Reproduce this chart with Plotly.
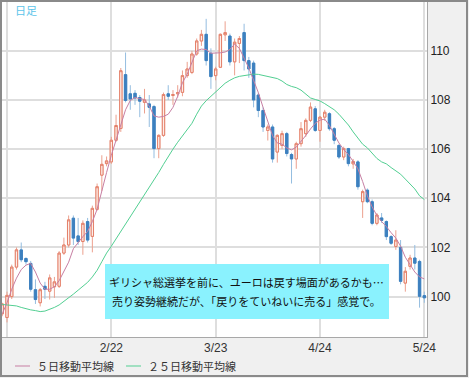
import plotly.graph_objects as go

# ---- data (trading-day index, -1 .. 88) ----
idx = list(range(-1, 89))

opens = [99.30, 99.15, 100.00, 101.20, 101.90, 101.55, 101.35, 100.28, 99.75, 100.42,
         100.22, 100.40, 100.42, 101.77, 102.10, 103.19, 102.47, 102.24, 103.05, 102.45,
         103.55, 104.94, 105.41, 105.48, 106.36, 106.84, 109.03, 108.25, 108.27, 108.10,
         107.90, 107.84, 107.73, 106.02, 106.56, 108.25, 108.18, 108.25, 108.31, 108.99,
         109.12, 109.87, 110.40, 110.67, 109.90, 108.99, 109.33, 110.65, 110.60, 109.55,
         110.30, 110.74, 109.60, 109.50, 108.20, 107.57, 106.76, 106.90, 105.88, 106.15,
         106.63, 105.78, 105.60, 106.22, 106.63, 107.17, 107.64, 106.76, 107.30, 107.44,
         106.83, 106.15, 105.68, 106.02, 105.40, 105.48, 103.86, 104.33, 103.86, 102.98,
         103.20, 103.05, 102.44, 102.04, 102.00, 100.55, 101.23, 101.57, 101.43, 100.04]

highs = [99.75, 100.20, 101.30, 102.00, 102.20, 101.60, 101.45, 100.70, 100.35, 100.60,
         100.90, 100.80, 101.85, 102.40, 103.30, 103.30, 103.20, 103.10, 103.20, 103.70,
         104.60, 105.75, 105.70, 106.50, 107.40, 109.30, 109.93, 108.60, 108.40, 108.20,
         108.45, 108.20, 107.80, 106.60, 108.30, 108.60, 108.40, 108.60, 109.20, 109.55,
         110.00, 110.50, 110.85, 111.30, 110.10, 109.35, 110.70, 111.20, 110.70, 110.50,
         110.60, 111.10, 109.75, 109.60, 108.30, 107.70, 107.00, 107.00, 106.60, 106.75,
         106.70, 105.85, 106.30, 107.10, 107.25, 107.90, 107.75, 107.35, 107.60, 107.50,
         106.90, 106.20, 106.10, 106.05, 105.60, 105.55, 104.35, 104.40, 103.95, 103.40,
         103.40, 103.10, 102.50, 102.70, 102.30, 101.20, 101.70, 102.10, 101.50, 100.20]

lows = [99.20, 98.95, 99.90, 101.10, 101.40, 101.30, 100.20, 99.70, 99.60, 99.90,
        99.88, 99.95, 100.35, 101.70, 102.00, 102.10, 102.10, 101.70, 102.20, 101.80,
        103.50, 104.30, 105.30, 105.40, 106.30, 106.70, 107.90, 107.60, 107.80, 107.30,
        107.45, 106.90, 105.63, 105.63, 106.50, 108.00, 107.80, 108.10, 108.15, 108.90,
        109.05, 109.80, 110.20, 109.40, 108.45, 108.80, 109.30, 110.40, 109.40, 109.00,
        109.50, 109.20, 108.90, 107.70, 107.30, 106.70, 106.35, 105.45, 105.45, 106.00,
        105.70, 104.60, 105.20, 106.10, 106.50, 107.10, 106.70, 106.30, 107.15, 106.75,
        106.20, 105.60, 105.55, 105.30, 105.20, 104.35, 103.20, 103.80, 102.90, 102.90,
        103.00, 102.30, 102.10, 101.90, 100.50, 100.20, 101.10, 101.10, 99.55, 99.75]

closes = [99.70, 100.05, 101.20, 101.90, 101.50, 101.42, 100.30, 99.88, 100.28, 100.30,
          100.76, 100.60, 101.77, 102.10, 103.12, 102.38, 102.24, 102.98, 102.30, 103.59,
          104.47, 105.38, 105.52, 106.36, 106.96, 109.19, 107.98, 108.04, 108.08, 107.95,
          108.00, 107.70, 106.02, 106.56, 108.22, 108.15, 108.22, 108.30, 108.99, 109.26,
          109.87, 110.40, 110.67, 109.60, 108.95, 109.26, 110.67, 110.74, 109.55, 110.35,
          110.50, 109.60, 109.26, 108.00, 107.57, 106.90, 106.90, 105.60, 106.56, 106.63,
          105.82, 105.60, 106.22, 106.83, 107.17, 107.71, 106.76, 107.30, 107.50, 106.83,
          106.36, 105.68, 106.02, 105.41, 105.50, 104.47, 104.27, 103.86, 102.98, 103.32,
          103.10, 102.44, 102.17, 102.30, 100.62, 101.03, 101.57, 101.36, 100.01, 99.95]

ma5 = [99.30, 99.75, 100.30, 100.75, 101.10, 101.28, 101.35, 101.00, 100.55, 100.30,
       100.30, 100.40, 100.65, 101.00, 101.40, 101.95, 102.20, 102.44, 102.65, 103.05,
       103.55, 104.35, 105.05, 105.75, 106.40, 107.00, 107.60, 107.98, 108.10, 108.05,
       108.02, 107.75, 107.35, 107.30, 107.33, 107.42, 107.70, 108.15, 108.70, 109.05,
       109.55, 110.00, 110.07, 110.05, 109.90, 109.90, 109.92, 109.95, 110.05, 110.27,
       110.10, 109.70, 109.30, 108.80, 108.30, 107.70, 107.10, 106.55, 106.25, 106.20,
       106.05, 105.97, 106.08, 106.30, 106.55, 106.82, 107.05, 107.18, 107.22, 106.96,
       106.62, 106.25, 105.98, 105.78, 105.50, 105.20, 104.68, 104.10, 103.65, 103.30,
       103.05, 102.85, 102.60, 102.38, 102.05, 101.60, 101.30, 101.00, 100.80, 100.72]

ma25 = [99.68, 99.67, 99.65, 99.62, 99.56, 99.50, 99.46, 99.43, 99.39, 99.41,
        99.47, 99.56, 99.66, 99.80, 99.93, 100.10, 100.26, 100.42, 100.58, 100.80,
        101.07, 101.42, 101.77, 102.05, 102.35, 102.65, 102.93, 103.22, 103.50, 103.80,
        104.15, 104.45, 104.70, 105.05, 105.38, 105.72, 106.00, 106.28, 106.55, 106.80,
        107.05, 107.42, 107.75, 107.97, 108.15, 108.32, 108.48, 108.68, 108.80, 108.90,
        108.96, 109.00, 109.03, 109.05, 109.04, 109.00, 108.97, 108.92, 108.87, 108.77,
        108.63, 108.55, 108.50, 108.40, 108.25, 108.08, 108.02, 107.96, 107.85, 107.72,
        107.60, 107.42, 107.20, 106.98, 106.70, 106.45, 106.20, 106.05, 105.85, 105.62,
        105.48, 105.40, 105.25, 105.12, 104.98, 104.78, 104.60, 104.38, 104.10, 103.95]

x_tick_pos = [0, 22, 44, 66, 88]
x_tick_labels = ["", "2/22", "3/23", "4/24", "5/24"]
y_ticks = [100, 102, 104, 106, 108, 110]

ma5_name = "５日移動平均線"
ma25_name = "２５日移動平均線"
note_lines = ["ギリシャ総選挙を前に、ユーロは戻す場面があるかも…",
              "売り姿勢継続だが、「戻りをていねいに売る」感覚で。"]
period_label = "日足"

# ---- styles ----
UP_LINE, UP_FILL, UP_WICK = "#e4806a", "#fdeee9", "#eca08e"
DN_LINE, DN_FILL, DN_WICK = "#3d80bf", "#3d80bf", "#94bde0"
MA5_COLOR, MA25_COLOR = "#c77fa3", "#52cf92"
JP = "Noto Sans CJK JP"

W, H = 469, 378
ML, MR, MT, MB = 2, 42, 2, 41
PW, PH = W - ML - MR, H - MT - MB


def fx(px):
    return (px - ML) / PW


def fy(py):
    return (H - MB - py) / PH


body_hi = [max(o, c) for o, c in zip(opens, closes)]
body_lo = [min(o, c) for o, c in zip(opens, closes)]

fig = go.Figure()
# wicks (lighter)
fig.add_trace(go.Candlestick(
    x=idx, open=opens, high=highs, low=lows, close=closes,
    increasing=dict(line=dict(color=UP_WICK, width=1), fillcolor=UP_FILL),
    decreasing=dict(line=dict(color=DN_WICK, width=1), fillcolor=DN_FILL),
    showlegend=False, hoverinfo="skip"))
# bodies
fig.add_trace(go.Candlestick(
    x=idx, open=opens, high=body_hi, low=body_lo, close=closes,
    increasing=dict(line=dict(color=UP_LINE, width=1), fillcolor=UP_FILL),
    decreasing=dict(line=dict(color=DN_LINE, width=1), fillcolor=DN_FILL),
    showlegend=False))
fig.add_trace(go.Scatter(x=idx, y=ma25, mode="lines", name=ma25_name,
                         line=dict(color=MA25_COLOR, width=1), showlegend=False))
fig.add_trace(go.Scatter(x=idx, y=ma5, mode="lines", name=ma5_name,
                         line=dict(color=MA5_COLOR, width=1), showlegend=False))

shapes = []
annotations = []

# annotation box
shapes.append(dict(type="rect", xref="paper", yref="paper",
                   x0=fx(105), x1=fx(389), y0=fy(319), y1=fy(264),
                   fillcolor="#8af2fe", line=dict(width=0), layer="above"))
for text, py in zip(note_lines, [282, 301]):
    annotations.append(dict(text=text, xref="paper", yref="paper",
                            x=fx(247), y=fy(py), xanchor="center", yanchor="middle",
                            showarrow=False, font=dict(family=JP, size=11, color="#111")))

annotations.append(dict(text=period_label, xref="paper", yref="paper",
                        x=fx(13), y=fy(10), xanchor="left", yanchor="middle",
                        showarrow=False, font=dict(family=JP, size=11, color="#5cc4ea")))

# manual legend
for (x0, x1, tx, name, col) in [(15, 30, 35, ma5_name, MA5_COLOR),
                                (126, 141, 146, ma25_name, MA25_COLOR)]:
    shapes.append(dict(type="line", xref="paper", yref="paper",
                       x0=fx(x0), x1=fx(x1), y0=fy(366), y1=fy(366),
                       line=dict(color=col, width=1)))
    annotations.append(dict(text=name, xref="paper", yref="paper",
                            x=fx(tx), y=fy(366), xanchor="left", yanchor="middle",
                            showarrow=False, font=dict(family=JP, size=11, color="#333")))

# outer frame
shapes.append(dict(type="rect", xref="paper", yref="paper",
                   x0=fx(1), x1=fx(467), y0=fy(376), y1=fy(1),
                   line=dict(color="#8a8a8a", width=2), fillcolor="rgba(0,0,0,0)",
                   layer="above"))

fig.update_layout(
    width=W, height=H,
    margin=dict(l=ML, r=MR, t=MT, b=MB, pad=0),
    paper_bgcolor="#f0f0f0", plot_bgcolor="#ffffff",
    font=dict(family="Liberation Sans, " + JP, size=12, color="#333"),
    showlegend=False,
    shapes=shapes, annotations=annotations,
    xaxis=dict(range=[-1.054, 88.57], tickvals=x_tick_pos, ticktext=x_tick_labels,
               showgrid=True, gridcolor="#dedede", gridwidth=2, zeroline=False,
               rangeslider=dict(visible=False), showline=True, linecolor="#a8a8a8",
               linewidth=1, ticks="", tickfont=dict(size=12, color="#333")),
    yaxis=dict(range=[98.356, 111.985], tickvals=y_ticks, side="right",
               showgrid=True, gridcolor="#dedede", gridwidth=2, zeroline=False,
               showline=True, linecolor="#a8a8a8", linewidth=1, ticks="",
               tickfont=dict(size=12, color="#222")),
)

fig.write_html(
    "out.html",
    config={"displayModeBar": False},
    post_script="document.body.style.margin='0';document.body.style.padding='0';"
                "document.documentElement.style.overflow='hidden';",
)
